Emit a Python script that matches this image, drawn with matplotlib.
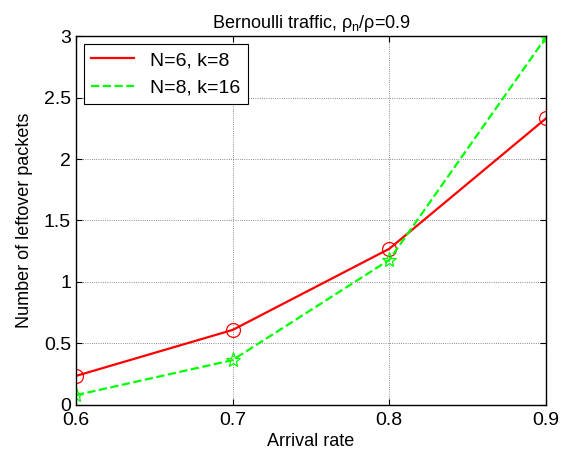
import numpy as np
import matplotlib.pyplot as plt

plt.rcParams['font.family'] = ['Liberation Sans', 'DejaVu Sans']
plt.rcParams['mathtext.fontset'] = 'custom'
plt.rcParams['mathtext.rm'] = 'Liberation Sans'
plt.rcParams['mathtext.it'] = 'Liberation Sans'

# data
rate = [0.6, 0.7, 0.8, 0.9]
n6_k8 = [0.236, 0.61, 1.27, 2.33]
n8_k16 = [0.08, 0.365, 1.18, 2.99]

fig = plt.figure(figsize=(5.62, 4.53), dpi=100)
ax = fig.add_axes([0.135, 0.106, 0.8365, 0.8145])

ax.plot(rate, n6_k8, '-', color='red', lw=1.6, marker='o', ms=10,
        mfc='none', mec='red', mew=0.9, label='N=6, k=8')
ax.plot(rate, n8_k16, '--', color='#00ff00', lw=1.6, marker='*', ms=11,
        mfc='none', mec='#00ff00', mew=0.9, label='N=8, k=16')

ax.set_xlim(0.6, 0.9)
ax.set_ylim(0, 3)
ax.set_xticks([0.6, 0.7, 0.8, 0.9])
ax.set_yticks([0, 0.5, 1, 1.5, 2, 2.5, 3])
ax.set_xticklabels(['0.6', '0.7', '0.8', '0.9'])
ax.set_yticklabels(['0', '0.5', '1', '1.5', '2', '2.5', '3'])
ax.tick_params(direction='in', labelsize=14, length=4, top=True, right=True)
ax.tick_params(axis='x', pad=5)
ax.grid(True, color='black', linestyle=':', lw=0.6, alpha=0.6)
for s in ax.spines.values():
    s.set_linewidth(1.0)

ax.set_xlabel('Arrival rate', fontsize=13, labelpad=3)
ax.set_ylabel('Number of leftover packets', fontsize=13, labelpad=8)
ax.set_title(r'Bernoulli traffic, $\rho_{\mathrm{n}}/\rho$=0.9', fontsize=13, pad=6)

leg = ax.legend(loc='upper left', fontsize=14, fancybox=False, framealpha=1,
                edgecolor='black', handlelength=2.2, borderaxespad=0.4)
leg.get_frame().set_linewidth(0.8)
for h in leg.legend_handles:
    h.set_marker('')

fig.savefig('out.png', dpi=100)
